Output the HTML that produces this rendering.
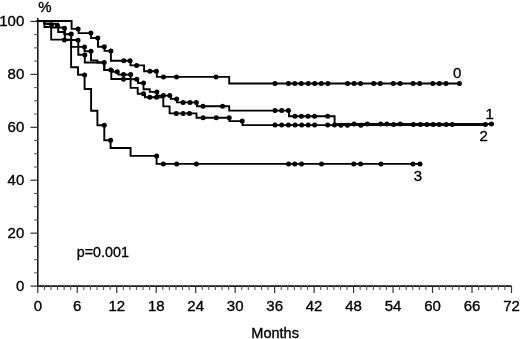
<!DOCTYPE html>
<html><head><meta charset="utf-8"><title>Kaplan-Meier survival</title>
<style>
html,body{margin:0;padding:0;background:#fff;}
body{width:520px;height:339px;overflow:hidden;}
svg{display:block;}
text{font-family:"Liberation Sans", Arial, Helvetica, sans-serif;font-size:15.0px;fill:#000;stroke:#000;stroke-width:0.35px;}
</style></head>
<body>
<svg width="520" height="339" viewBox="0 0 520 339">
<rect width="520" height="339" fill="#fff"/>
<g stroke="#1a1a1a" stroke-width="1.6" fill="none">
<line x1="37.8" y1="17.9" x2="37.8" y2="286.8"/><line x1="37.1" y1="286.1" x2="511.6" y2="286.1"/>
</g>
<g stroke="#333" stroke-width="1.2" fill="none">
<line x1="30.4" y1="286.10" x2="37.8" y2="286.10"/><line x1="30.4" y1="233.16" x2="37.8" y2="233.16"/><line x1="30.4" y1="180.22" x2="37.8" y2="180.22"/><line x1="30.4" y1="127.28" x2="37.8" y2="127.28"/><line x1="30.4" y1="74.34" x2="37.8" y2="74.34"/><line x1="30.4" y1="21.40" x2="37.8" y2="21.40"/><line x1="37.80" y1="286.1" x2="37.80" y2="293.0"/><line x1="77.27" y1="286.1" x2="77.27" y2="293.0"/><line x1="116.75" y1="286.1" x2="116.75" y2="293.0"/><line x1="156.22" y1="286.1" x2="156.22" y2="293.0"/><line x1="195.70" y1="286.1" x2="195.70" y2="293.0"/><line x1="235.17" y1="286.1" x2="235.17" y2="293.0"/><line x1="274.64" y1="286.1" x2="274.64" y2="293.0"/><line x1="314.12" y1="286.1" x2="314.12" y2="293.0"/><line x1="353.59" y1="286.1" x2="353.59" y2="293.0"/><line x1="393.07" y1="286.1" x2="393.07" y2="293.0"/><line x1="432.54" y1="286.1" x2="432.54" y2="293.0"/><line x1="472.01" y1="286.1" x2="472.01" y2="293.0"/><line x1="511.49" y1="286.1" x2="511.49" y2="293.0"/>
</g>
<g stroke="#555" stroke-width="1.1" fill="none">
<line x1="34.2" y1="272.87" x2="37.8" y2="272.87"/><line x1="34.2" y1="259.63" x2="37.8" y2="259.63"/><line x1="34.2" y1="246.40" x2="37.8" y2="246.40"/><line x1="34.2" y1="219.93" x2="37.8" y2="219.93"/><line x1="34.2" y1="206.69" x2="37.8" y2="206.69"/><line x1="34.2" y1="193.46" x2="37.8" y2="193.46"/><line x1="34.2" y1="166.99" x2="37.8" y2="166.99"/><line x1="34.2" y1="153.75" x2="37.8" y2="153.75"/><line x1="34.2" y1="140.52" x2="37.8" y2="140.52"/><line x1="34.2" y1="114.05" x2="37.8" y2="114.05"/><line x1="34.2" y1="100.81" x2="37.8" y2="100.81"/><line x1="34.2" y1="87.58" x2="37.8" y2="87.58"/><line x1="34.2" y1="61.11" x2="37.8" y2="61.11"/><line x1="34.2" y1="47.87" x2="37.8" y2="47.87"/><line x1="34.2" y1="34.64" x2="37.8" y2="34.64"/><line x1="44.38" y1="286.1" x2="44.38" y2="290.0"/><line x1="50.96" y1="286.1" x2="50.96" y2="290.0"/><line x1="57.54" y1="286.1" x2="57.54" y2="290.0"/><line x1="64.12" y1="286.1" x2="64.12" y2="290.0"/><line x1="70.69" y1="286.1" x2="70.69" y2="290.0"/><line x1="83.85" y1="286.1" x2="83.85" y2="290.0"/><line x1="90.43" y1="286.1" x2="90.43" y2="290.0"/><line x1="97.01" y1="286.1" x2="97.01" y2="290.0"/><line x1="103.59" y1="286.1" x2="103.59" y2="290.0"/><line x1="110.17" y1="286.1" x2="110.17" y2="290.0"/><line x1="123.33" y1="286.1" x2="123.33" y2="290.0"/><line x1="129.91" y1="286.1" x2="129.91" y2="290.0"/><line x1="136.49" y1="286.1" x2="136.49" y2="290.0"/><line x1="143.06" y1="286.1" x2="143.06" y2="290.0"/><line x1="149.64" y1="286.1" x2="149.64" y2="290.0"/><line x1="162.80" y1="286.1" x2="162.80" y2="290.0"/><line x1="169.38" y1="286.1" x2="169.38" y2="290.0"/><line x1="175.96" y1="286.1" x2="175.96" y2="290.0"/><line x1="182.54" y1="286.1" x2="182.54" y2="290.0"/><line x1="189.12" y1="286.1" x2="189.12" y2="290.0"/><line x1="202.27" y1="286.1" x2="202.27" y2="290.0"/><line x1="208.85" y1="286.1" x2="208.85" y2="290.0"/><line x1="215.43" y1="286.1" x2="215.43" y2="290.0"/><line x1="222.01" y1="286.1" x2="222.01" y2="290.0"/><line x1="228.59" y1="286.1" x2="228.59" y2="290.0"/><line x1="241.75" y1="286.1" x2="241.75" y2="290.0"/><line x1="248.33" y1="286.1" x2="248.33" y2="290.0"/><line x1="254.91" y1="286.1" x2="254.91" y2="290.0"/><line x1="261.49" y1="286.1" x2="261.49" y2="290.0"/><line x1="268.06" y1="286.1" x2="268.06" y2="290.0"/><line x1="281.22" y1="286.1" x2="281.22" y2="290.0"/><line x1="287.80" y1="286.1" x2="287.80" y2="290.0"/><line x1="294.38" y1="286.1" x2="294.38" y2="290.0"/><line x1="300.96" y1="286.1" x2="300.96" y2="290.0"/><line x1="307.54" y1="286.1" x2="307.54" y2="290.0"/><line x1="320.70" y1="286.1" x2="320.70" y2="290.0"/><line x1="327.28" y1="286.1" x2="327.28" y2="290.0"/><line x1="333.86" y1="286.1" x2="333.86" y2="290.0"/><line x1="340.43" y1="286.1" x2="340.43" y2="290.0"/><line x1="347.01" y1="286.1" x2="347.01" y2="290.0"/><line x1="360.17" y1="286.1" x2="360.17" y2="290.0"/><line x1="366.75" y1="286.1" x2="366.75" y2="290.0"/><line x1="373.33" y1="286.1" x2="373.33" y2="290.0"/><line x1="379.91" y1="286.1" x2="379.91" y2="290.0"/><line x1="386.49" y1="286.1" x2="386.49" y2="290.0"/><line x1="399.64" y1="286.1" x2="399.64" y2="290.0"/><line x1="406.22" y1="286.1" x2="406.22" y2="290.0"/><line x1="412.80" y1="286.1" x2="412.80" y2="290.0"/><line x1="419.38" y1="286.1" x2="419.38" y2="290.0"/><line x1="425.96" y1="286.1" x2="425.96" y2="290.0"/><line x1="439.12" y1="286.1" x2="439.12" y2="290.0"/><line x1="445.70" y1="286.1" x2="445.70" y2="290.0"/><line x1="452.28" y1="286.1" x2="452.28" y2="290.0"/><line x1="458.86" y1="286.1" x2="458.86" y2="290.0"/><line x1="465.44" y1="286.1" x2="465.44" y2="290.0"/><line x1="478.59" y1="286.1" x2="478.59" y2="290.0"/><line x1="485.17" y1="286.1" x2="485.17" y2="290.0"/><line x1="491.75" y1="286.1" x2="491.75" y2="290.0"/><line x1="498.33" y1="286.1" x2="498.33" y2="290.0"/><line x1="504.91" y1="286.1" x2="504.91" y2="290.0"/>
</g>
<g stroke="#000" stroke-width="1.9" fill="none" stroke-linejoin="miter" stroke-linecap="square">
<path d="M37.8,21.0H71.6V28.9H78.6V33.1H91.1V38.0H98.0V46.7H104.5V50.9H110.9V60.7H130.5V65.4H144.1V71.2H156.8V76.9H229.2V83.5H459.4"/><path d="M37.8,21.0H44.4V27.0H51.2V39.6H71.1V67.2H78.0V74.8H84.6V89.0H91.1V110.7H97.4V125.2H104.3V140.2H110.6V148.0H130.6V155.9H156.6V163.9H420.0"/><path d="M37.8,21.0H44.4V23.8H51.3V27.5H64.9V40.0H78.3V46.9H84.5V51.3H91.0V60.4H97.4V62.5H104.3V70.0H112.8V71.7H118.3V74.6H130.6V79.3H138.0V83.0H143.5V89.2H149.8V91.9H157.0V95.6H170.8V98.9H177.0V102.4H196.9V106.2H229.2V110.6H289.0V116.2H334.6V123.9H491.5"/><path d="M37.8,21.0H44.4V23.8H58.2V32.0H64.2V34.2H71.2V46.9H78.3V54.8H84.8V62.5H104.3V70.0H111.3V79.0H130.6V87.9H137.7V93.8H145.0V97.3H163.3V106.4H169.6V113.4H196.5V117.7H229.4V121.1H242.5V125.1H485.4"/>
</g>
<g fill="#000">
<circle cx="78.1" cy="28.9" r="2.5"/><circle cx="90.9" cy="33.1" r="2.5"/><circle cx="97.8" cy="38.0" r="2.5"/><circle cx="104.3" cy="46.7" r="2.5"/><circle cx="110.9" cy="50.9" r="2.5"/><circle cx="123.7" cy="60.7" r="2.5"/><circle cx="130.1" cy="60.7" r="2.5"/><circle cx="136.6" cy="65.4" r="2.5"/><circle cx="149.9" cy="71.2" r="2.5"/><circle cx="156.4" cy="71.2" r="2.5"/><circle cx="163.5" cy="76.9" r="2.5"/><circle cx="176.5" cy="76.9" r="2.5"/><circle cx="216.0" cy="76.9" r="2.5"/><circle cx="275.0" cy="83.5" r="2.5"/><circle cx="288.4" cy="83.5" r="2.5"/><circle cx="294.8" cy="83.5" r="2.5"/><circle cx="301.3" cy="83.5" r="2.5"/><circle cx="308.2" cy="83.5" r="2.5"/><circle cx="314.7" cy="83.5" r="2.5"/><circle cx="321.3" cy="83.5" r="2.5"/><circle cx="327.9" cy="83.5" r="2.5"/><circle cx="347.6" cy="83.5" r="2.5"/><circle cx="354.1" cy="83.5" r="2.5"/><circle cx="360.6" cy="83.5" r="2.5"/><circle cx="373.7" cy="83.5" r="2.5"/><circle cx="380.3" cy="83.5" r="2.5"/><circle cx="393.3" cy="83.5" r="2.5"/><circle cx="400.1" cy="83.5" r="2.5"/><circle cx="413.1" cy="83.5" r="2.5"/><circle cx="419.7" cy="83.5" r="2.5"/><circle cx="432.8" cy="83.5" r="2.5"/><circle cx="439.4" cy="83.5" r="2.5"/><circle cx="446.0" cy="83.5" r="2.5"/><circle cx="459.4" cy="83.5" r="2.5"/><circle cx="64.4" cy="40.0" r="2.5"/><circle cx="84.6" cy="75.0" r="2.5"/><circle cx="104.3" cy="125.2" r="2.5"/><circle cx="110.6" cy="140.2" r="2.5"/><circle cx="156.6" cy="155.9" r="2.5"/><circle cx="163.3" cy="163.9" r="2.5"/><circle cx="176.7" cy="163.9" r="2.5"/><circle cx="196.4" cy="163.9" r="2.5"/><circle cx="288.6" cy="163.9" r="2.5"/><circle cx="294.8" cy="163.9" r="2.5"/><circle cx="301.5" cy="163.9" r="2.5"/><circle cx="321.5" cy="163.9" r="2.5"/><circle cx="353.8" cy="163.9" r="2.5"/><circle cx="360.6" cy="163.9" r="2.5"/><circle cx="380.9" cy="163.9" r="2.5"/><circle cx="412.9" cy="163.9" r="2.5"/><circle cx="420.0" cy="163.9" r="2.5"/><circle cx="64.5" cy="28.2" r="2.5"/><circle cx="78.0" cy="40.2" r="2.5"/><circle cx="84.5" cy="46.9" r="2.5"/><circle cx="91.0" cy="51.3" r="2.5"/><circle cx="104.2" cy="62.5" r="2.5"/><circle cx="110.7" cy="70.0" r="2.5"/><circle cx="117.2" cy="71.7" r="2.5"/><circle cx="123.5" cy="74.6" r="2.5"/><circle cx="130.6" cy="74.6" r="2.5"/><circle cx="136.8" cy="79.3" r="2.5"/><circle cx="143.5" cy="83.0" r="2.5"/><circle cx="156.8" cy="91.9" r="2.5"/><circle cx="163.4" cy="95.6" r="2.5"/><circle cx="169.8" cy="95.6" r="2.5"/><circle cx="176.6" cy="98.9" r="2.5"/><circle cx="183.1" cy="102.4" r="2.5"/><circle cx="190.0" cy="102.4" r="2.5"/><circle cx="196.3" cy="102.4" r="2.5"/><circle cx="203.0" cy="106.2" r="2.5"/><circle cx="222.6" cy="106.2" r="2.5"/><circle cx="275.0" cy="110.6" r="2.5"/><circle cx="281.7" cy="110.6" r="2.5"/><circle cx="288.4" cy="110.6" r="2.5"/><circle cx="295.0" cy="116.2" r="2.5"/><circle cx="301.4" cy="116.2" r="2.5"/><circle cx="308.0" cy="116.2" r="2.5"/><circle cx="314.6" cy="116.2" r="2.5"/><circle cx="327.7" cy="116.2" r="2.5"/><circle cx="491.5" cy="123.9" r="2.5"/><circle cx="51.5" cy="24.8" r="2.5"/><circle cx="57.4" cy="25.4" r="2.5"/><circle cx="71.2" cy="34.0" r="2.5"/><circle cx="84.8" cy="54.9" r="2.5"/><circle cx="123.5" cy="79.3" r="2.5"/><circle cx="143.5" cy="93.8" r="2.5"/><circle cx="149.8" cy="97.3" r="2.5"/><circle cx="156.5" cy="97.3" r="2.5"/><circle cx="176.2" cy="113.4" r="2.5"/><circle cx="183.1" cy="113.4" r="2.5"/><circle cx="189.5" cy="113.4" r="2.5"/><circle cx="203.1" cy="117.7" r="2.5"/><circle cx="216.2" cy="117.7" r="2.5"/><circle cx="229.2" cy="117.7" r="2.5"/><circle cx="242.2" cy="121.1" r="2.5"/><circle cx="275.0" cy="125.1" r="2.5"/><circle cx="281.7" cy="125.1" r="2.5"/><circle cx="288.4" cy="125.1" r="2.5"/><circle cx="295.1" cy="125.1" r="2.5"/><circle cx="301.7" cy="125.1" r="2.5"/><circle cx="308.2" cy="125.1" r="2.5"/><circle cx="314.7" cy="125.1" r="2.5"/><circle cx="327.7" cy="125.1" r="2.5"/><circle cx="334.5" cy="125.1" r="2.5"/><circle cx="341.0" cy="125.3" r="2.5"/><circle cx="347.4" cy="125.3" r="2.5"/><circle cx="360.9" cy="125.3" r="2.5"/><circle cx="354.1" cy="124.0" r="2.5"/><circle cx="367.3" cy="124.0" r="2.5"/><circle cx="380.6" cy="124.0" r="2.5"/><circle cx="386.9" cy="124.0" r="2.5"/><circle cx="400.2" cy="124.0" r="2.5"/><circle cx="393.6" cy="124.6" r="2.5"/><circle cx="413.4" cy="124.6" r="2.5"/><circle cx="420.4" cy="124.6" r="2.5"/><circle cx="426.9" cy="124.6" r="2.5"/><circle cx="433.1" cy="124.6" r="2.5"/><circle cx="439.2" cy="124.6" r="2.5"/><circle cx="446.2" cy="124.6" r="2.5"/><circle cx="452.3" cy="124.6" r="2.5"/><circle cx="485.4" cy="124.6" r="2.5"/>
</g>
<g>
<text transform="translate(24.30,290.90)" text-anchor="end">0</text><text transform="translate(24.30,237.96)" text-anchor="end">20</text><text transform="translate(24.30,185.02)" text-anchor="end">40</text><text transform="translate(24.30,132.08)" text-anchor="end">60</text><text transform="translate(24.30,79.14)" text-anchor="end">80</text><text transform="translate(24.30,26.20)" text-anchor="end">100</text><text transform="translate(37.80,311.00)" text-anchor="middle">0</text><text transform="translate(77.27,311.00)" text-anchor="middle">6</text><text transform="translate(116.75,311.00)" text-anchor="middle">12</text><text transform="translate(156.22,311.00)" text-anchor="middle">18</text><text transform="translate(195.70,311.00)" text-anchor="middle">24</text><text transform="translate(235.17,311.00)" text-anchor="middle">30</text><text transform="translate(274.64,311.00)" text-anchor="middle">36</text><text transform="translate(314.12,311.00)" text-anchor="middle">42</text><text transform="translate(353.59,311.00)" text-anchor="middle">48</text><text transform="translate(393.07,311.00)" text-anchor="middle">54</text><text transform="translate(432.54,311.00)" text-anchor="middle">60</text><text transform="translate(472.01,311.00)" text-anchor="middle">66</text><text transform="translate(511.49,311.00)" text-anchor="middle">72</text><text transform="translate(275.10,337.60) scale(0.97,1.0)" text-anchor="middle">Months</text><text transform="translate(38.20,11.80)">%</text><text transform="translate(76.80,257.40) scale(0.955,1.0)">p=0.001</text><text transform="translate(452.90,78.30)">0</text><text transform="translate(485.40,118.70)">1</text><text transform="translate(479.60,140.60)">2</text><text transform="translate(413.80,180.80)">3</text>
</g>
</svg>
</body></html>
